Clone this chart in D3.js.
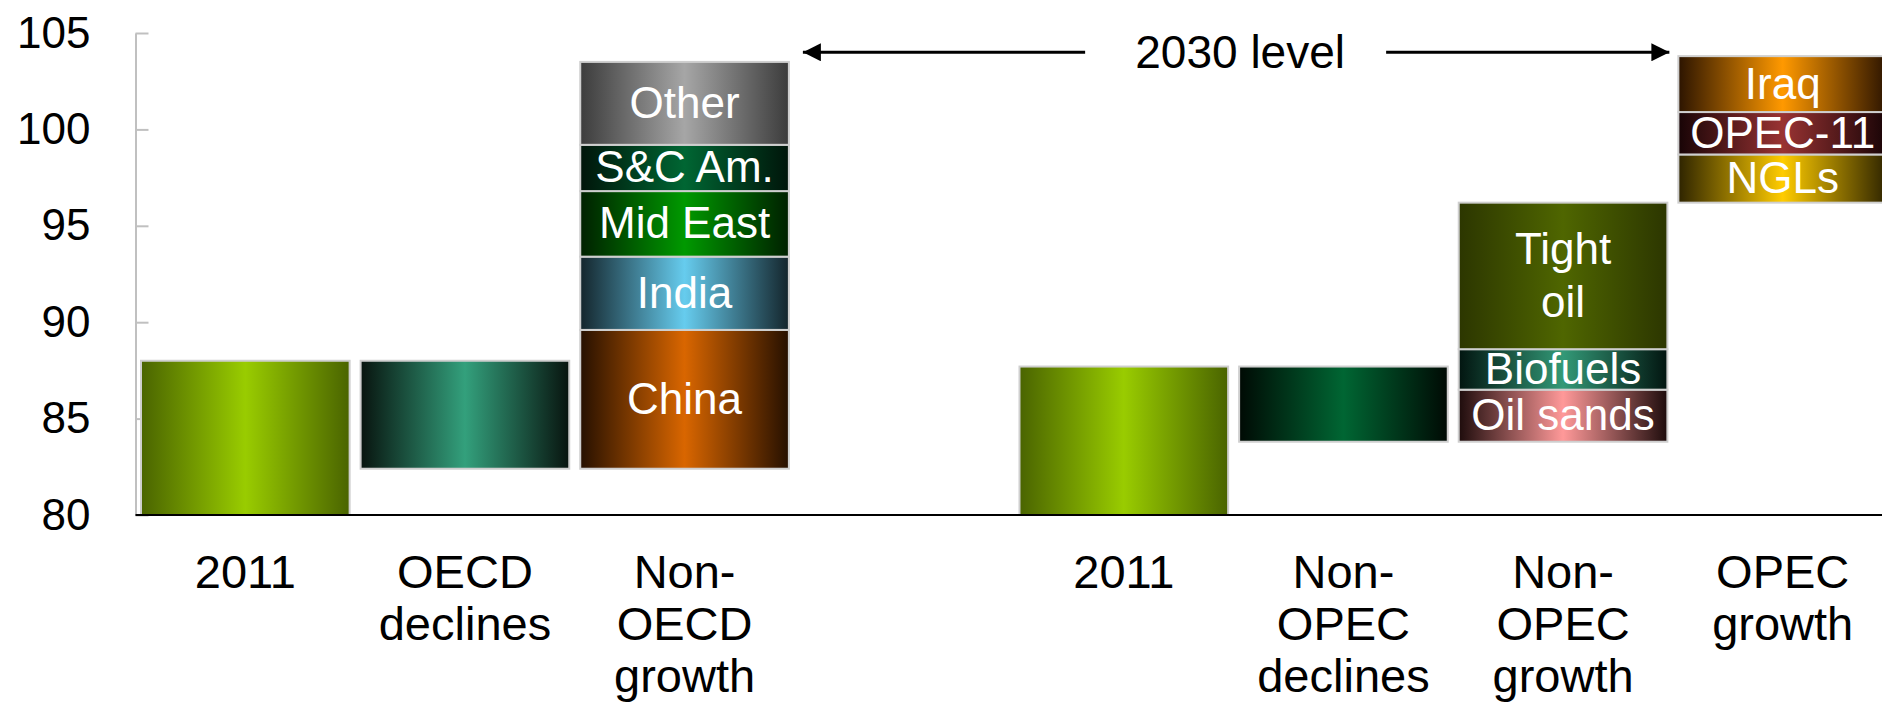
<!DOCTYPE html>
<html>
<head>
<meta charset="utf-8">
<script src="https://cdn.jsdelivr.net/npm/d3@7"></script>
<style>
  body { margin: 0; background: #fff; }
  svg { display: block; font-family: "Liberation Sans", Arial, sans-serif; }
</style>
</head>
<body>
<svg id="chart" width="1882" height="705"></svg>
<script>
// categories on the x axis (empty slot splits the two groups)
var categories = ["2011", "OECD\ndeclines", "Non-\nOECD\ngrowth", "", "2011", "Non-\nOPEC\ndeclines", "Non-\nOPEC\ngrowth", "OPEC\ngrowth"];

// floating segments of the two waterfalls
var segCategory = [0, 1, 2, 2, 2, 2, 2, 4, 5, 6, 6, 6, 7, 7, 7];
var segLabels = ["", "", "China", "India", "Mid East", "S&C Am.", "Other", "", "", "Oil sands", "Biofuels", "Tight\noil", "NGLs", "OPEC-11", "Iraq"];
var segBase = [80, 82.4, 82.4, 89.6, 93.4, 96.8, 99.2, 80, 83.8, 83.8, 86.5, 88.6, 96.2, 98.7, 100.9];
var segTop  = [88.0, 88.0, 89.6, 93.4, 96.8, 99.2, 103.5, 87.7, 87.7, 86.5, 88.6, 96.2, 98.7, 100.9, 103.8];

var yTicks = [80, 85, 90, 95, 100, 105];
var annotation = "2030 level";
var annotationValue = 104;

// edge / centre colours of each segment's gradient
var segEdge   = ["#4a6400", "#08140f", "#261000", "#14252c", "#002000", "#00150a", "#3c3c3c", "#4a6400", "#000a04", "#1e0c0c", "#021510", "#2c3600", "#2e2400", "#180406", "#2c1400"];
var segCentre = ["#99cc00", "#33a07c", "#d96600", "#66ccee", "#009900", "#006633", "#a6a6a6", "#99cc00", "#006633", "#ff9999", "#339977", "#4f6600", "#ffcc00", "#993333", "#ff9900"];

var svg = d3.select("#chart");

var x = d3.scaleBand()
  .domain(d3.range(categories.length))
  .range([135.5, 1892.5])
  .paddingInner(0.05)
  .paddingOuter(0.025);

var y = d3.scaleLinear()
  .domain([80, 105])
  .range([515, 33]);

var defs = svg.append("defs");
segEdge.forEach(function(c, i){
  var g = defs.append("linearGradient")
    .attr("id", "grad" + i)
    .attr("x1", 0).attr("x2", 1).attr("y1", 0).attr("y2", 0);
  g.append("stop").attr("offset", "0%").attr("stop-color", c);
  g.append("stop").attr("offset", "50%").attr("stop-color", segCentre[i]);
  g.append("stop").attr("offset", "100%").attr("stop-color", c);
});

// y axis, ticks pointing into the plot
var yAxis = d3.axisLeft(y)
  .tickValues(yTicks)
  .tickSize(-13)
  .tickSizeOuter(0)
  .tickPadding(45);

var gY = svg.append("g")
  .attr("transform", "translate(" + x.range()[0] + ",0)")
  .call(yAxis);
gY.select(".domain").attr("stroke", "#c0c0c0").attr("stroke-width", 2);
gY.selectAll(".tick line").attr("stroke", "#c0c0c0").attr("stroke-width", 2);
gY.selectAll(".tick text")
  .attr("fill", "#000")
  .style("font-size", "44px");

// bars
var segIdx = d3.range(segCategory.length);

svg.append("g").selectAll("rect")
  .data(segIdx)
  .enter().append("rect")
  .attr("x", function(i){ return x(segCategory[i]); })
  .attr("width", x.bandwidth())
  .attr("y", function(i){ return y(segTop[i]); })
  .attr("height", function(i){ return y(segBase[i]) - y(segTop[i]); })
  .attr("fill", function(i){ return "url(#grad" + i + ")"; })
  .attr("stroke", "#cfcfcf")
  .attr("stroke-width", 2);

// labels inside the segments
var segText = svg.append("g").selectAll("text")
  .data(segIdx.filter(function(i){ return segLabels[i] !== ""; }))
  .enter().append("text")
  .attr("text-anchor", "middle")
  .attr("fill", "#fff")
  .style("font-size", "44px")
  .attr("transform", function(i){
    var cx = x(segCategory[i]) + x.bandwidth() / 2;
    var cy = (y(segTop[i]) + y(segBase[i])) / 2;
    return "translate(" + cx + "," + cy + ")";
  });

segText.each(function(i){
  var lines = segLabels[i].split("\n");
  var t = d3.select(this);
  lines.forEach(function(l, k){
    t.append("tspan")
      .attr("x", 0)
      .attr("y", (k - (lines.length - 1) / 2) * 53)
      .attr("dy", "0.33em")
      .text(l);
  });
});

// x axis base line
svg.append("line")
  .attr("x1", x.range()[0])
  .attr("x2", 1882)
  .attr("y1", y(80))
  .attr("y2", y(80))
  .attr("stroke", "#000")
  .attr("stroke-width", 2);

// category labels
var catText = svg.append("g").selectAll("text")
  .data(d3.range(categories.length))
  .enter().append("text")
  .attr("text-anchor", "middle")
  .attr("fill", "#000")
  .style("font-size", "47px")
  .attr("transform", function(i){
    return "translate(" + (x(i) + x.bandwidth() / 2) + "," + (y(80) + 73) + ")";
  });

catText.each(function(i){
  var t = d3.select(this);
  categories[i].split("\n").forEach(function(l, k){
    t.append("tspan").attr("x", 0).attr("y", k * 52).text(l);
  });
});

// "2030 level" double arrow
defs.append("marker")
  .attr("id", "head")
  .attr("viewBox", "0 0 10 10")
  .attr("refX", 10).attr("refY", 5)
  .attr("markerWidth", 6).attr("markerHeight", 6)
  .attr("markerUnits", "strokeWidth")
  .attr("orient", "auto")
  .append("path")
  .attr("d", "M0,0L10,5L0,10z")
  .attr("fill", "#000");

var ay = y(annotationValue);
var leftTip = x(2) + x.bandwidth() + 14;
var rightTip = x(7) - 9;
var mid = (leftTip + rightTip) / 2 + 4;

svg.append("line")
  .attr("x1", mid - 155).attr("x2", leftTip)
  .attr("y1", ay).attr("y2", ay)
  .attr("stroke", "#000").attr("stroke-width", 3)
  .attr("marker-end", "url(#head)");

svg.append("line")
  .attr("x1", mid + 146).attr("x2", rightTip)
  .attr("y1", ay).attr("y2", ay)
  .attr("stroke", "#000").attr("stroke-width", 3)
  .attr("marker-end", "url(#head)");

svg.append("text")
  .attr("x", mid)
  .attr("y", ay)
  .attr("dy", "0.35em")
  .attr("text-anchor", "middle")
  .style("font-size", "46px")
  .text(annotation);
</script>
</body>
</html>
